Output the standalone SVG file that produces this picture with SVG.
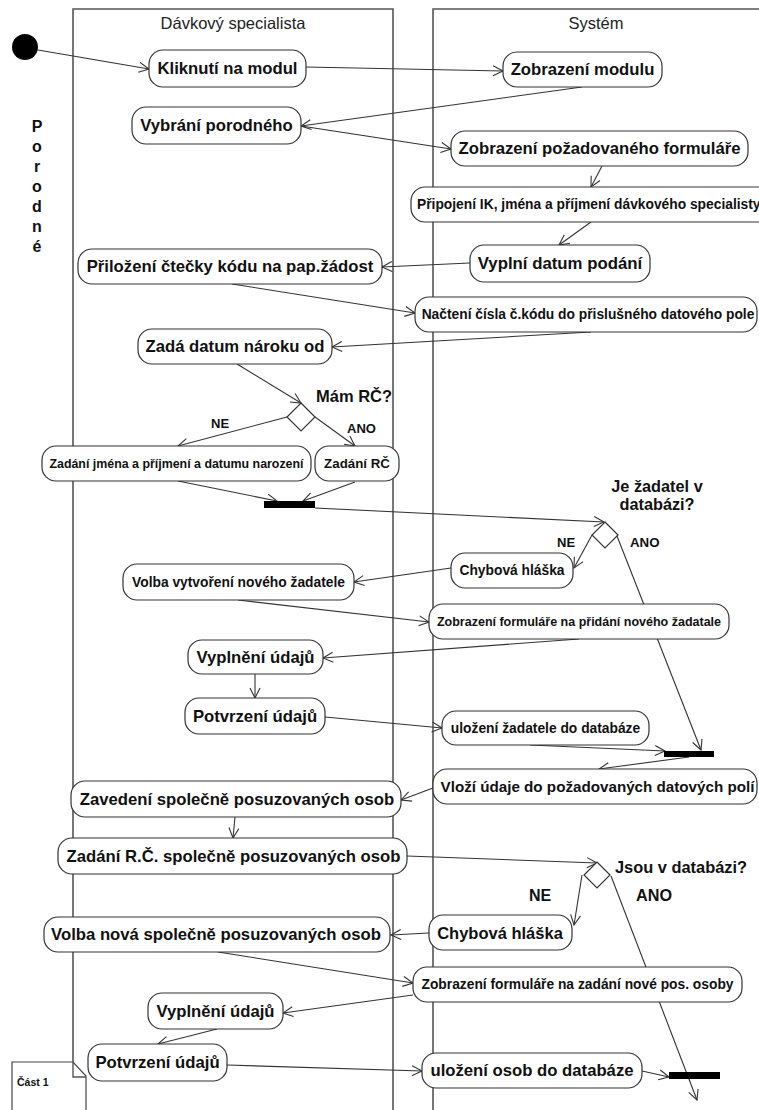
<svg xmlns="http://www.w3.org/2000/svg" width="759" height="1110" viewBox="0 0 759 1110">
<defs>
<marker id="arr" markerUnits="userSpaceOnUse" markerWidth="14" markerHeight="12" refX="11" refY="5.5" orient="auto">
<path d="M1,0.5 L11,5.5 L1,10.5" fill="none" stroke="#333" stroke-width="1.1"/>
</marker>
<style>
.lane{fill:none;stroke:#555;stroke-width:1.6}
.box{fill:#fff;stroke:#333;stroke-width:1.2}
.c{fill:none;stroke:#333;stroke-width:1.1;marker-end:url(#arr)}
.t{font-family:"Liberation Sans",Arial,sans-serif;font-weight:bold;fill:#111;text-anchor:middle;dominant-baseline:central}
.l{font-family:"Liberation Sans",Arial,sans-serif;font-weight:bold;fill:#111}
.h{font-family:"Liberation Sans",Arial,sans-serif;font-size:16.5px;fill:#222;text-anchor:middle}
.big{font-size:16.7px}
.mid{font-size:13.8px}
.bar{fill:#000}
</style>
</defs>
<rect width="759" height="1110" fill="#fff"/>
<g id="lanes">
<path class="lane" d="M73,1077 V9 H393 V1110"/>
<path class="lane" d="M433,1110 V9 H762"/>
<text class="h" x="233" y="29">Dávkový specialista</text>
<text class="h" x="596" y="29">Systém</text>
<g class="l" font-size="16" text-anchor="middle">
<text x="37" y="132">P</text><text x="37" y="152">o</text><text x="37" y="172">r</text><text x="37" y="192">o</text><text x="37" y="212">d</text><text x="37" y="232">n</text><text x="37" y="252">é</text>
</g>
</g>
<g id="connectors">
<path class="c" d="M38,50 L149,69"/>
<path class="c" d="M306,67 L503,71"/>
<path class="c" d="M582,87 L301,126"/>
<path class="c" d="M301,126 L451,149"/>
<path class="c" d="M602,166 L591,187"/>
<path class="c" d="M591,222 L559,245"/>
<path class="c" d="M470,263 L382,267"/>
<path class="c" d="M232,284 L415,313"/>
<path class="c" d="M591,332 L332,347"/>
<path class="c" d="M237,364 L301,403"/>
<path class="c" d="M287,417 L178,446"/>
<path class="c" d="M315,417 L355,446"/>
<path class="c" d="M178,481 L277,501"/>
<path class="c" d="M355,482 L303,501"/>
<path class="c" d="M315,508 L604,522"/>
<path class="c" d="M592,535 L574,568"/>
<path class="c" d="M617,536 L701,750"/>
<path class="c" d="M451,568 L354,582"/>
<path class="c" d="M238,600 L429,622"/>
<path class="c" d="M579,639 L323,658"/>
<path class="c" d="M255,674 L255,698"/>
<path class="c" d="M325,717 L442,728"/>
<path class="c" d="M530,745 L665,751"/>
<path class="c" d="M689,757 L599,769"/>
<path class="c" d="M433,788 L401,800"/>
<path class="c" d="M235,817 L233,838"/>
<path class="c" d="M407,856 L597,863"/>
<path class="c" d="M582,875 L574,925"/>
<path class="c" d="M611,876 L697,1100"/>
<path class="c" d="M429,933 L391,935"/>
<path class="c" d="M218,952 L413,983"/>
<path class="c" d="M413,995 L283,1013"/>
<path class="c" d="M217,1029 L158,1044"/>
<path class="c" d="M227,1065 L422,1071"/>
<path class="c" d="M642,1071 L669,1077"/>
</g>
<g id="start"><circle cx="25" cy="47" r="13" fill="#000"/></g>
<g id="n1"><rect class="box" x="149" y="50" width="157" height="37" rx="14"/><text class="t big" x="227.5" y="68.5">Kliknutí na modul</text></g>
<g id="n2"><rect class="box" x="503" y="52" width="159" height="35" rx="14"/><text class="t big" x="582.5" y="69.5">Zobrazení modulu</text></g>
<g id="n3"><rect class="box" x="132" y="107" width="169" height="37" rx="14"/><text class="t big" x="216.5" y="125.5">Vybrání porodného</text></g>
<g id="n4"><rect class="box" x="451" y="131" width="297" height="35" rx="14"/><text class="t big" x="599.5" y="148.5">Zobrazení požadovaného formuláře</text></g>
<g id="n5"><rect class="box" x="411" y="187" width="362" height="35" rx="14"/><text class="t mid" x="417" y="204.5" style="text-anchor:start">Připojení IK, jména a příjmení dávkového specialisty</text></g>
<g id="n6"><rect class="box" x="470" y="245" width="180" height="37" rx="14"/><text class="t" font-size="16.8" x="560" y="263.5">Vyplní datum podání</text></g>
<g id="n7"><rect class="box" x="78" y="249" width="304" height="35" rx="14"/><text class="t big" x="230" y="266.5">Přiložení čtečky kódu na pap.žádost</text></g>
<g id="n8"><rect class="box" x="415" y="297" width="342" height="35" rx="14"/><text class="t mid" x="588" y="314.5">Načtení čísla č.kódu do přislušného datového pole</text></g>
<g id="n9"><rect class="box" x="138" y="329" width="194" height="35" rx="14"/><text class="t big" x="235" y="346.5">Zadá datum nároku od</text></g>
<g id="d1"><path class="box" d="M301,403 L315,417 L301,431 L287,417 Z"/><text class="l" font-size="16.5" x="316" y="402">Mám RČ?</text><text class="l" font-size="13" x="211" y="428">NE</text><text class="l" font-size="13" x="347" y="433">ANO</text></g>
<g id="n10"><rect class="box" x="42" y="446" width="269" height="35" rx="14"/><text class="t" font-size="12.4" x="176.5" y="463.5">Zadání jména a příjmení a datumu narození</text></g>
<g id="n11"><rect class="box" x="315" y="446" width="84" height="35" rx="14"/><text class="t" font-size="13.3" x="357" y="463.5">Zadání RČ</text></g>
<g id="b1"><rect class="bar" x="264" y="501" width="51" height="7"/></g>
<g id="d2"><path class="box" d="M605,522 L618,535 L605,548 L592,535 Z"/><text class="l" font-size="16.3" x="657" y="492" text-anchor="middle">Je žadatel v</text><text class="l" font-size="16.3" x="657" y="510" text-anchor="middle">databázi?</text><text class="l" font-size="13" x="557" y="547">NE</text><text class="l" font-size="13.3" x="630" y="547">ANO</text></g>
<g id="n12"><rect class="box" x="451" y="553" width="122" height="35" rx="14"/><text class="t mid" x="512" y="570.5">Chybová hláška</text></g>
<g id="n13"><rect class="box" x="123" y="564" width="231" height="36" rx="14"/><text class="t mid" x="238.5" y="582">Volba vytvoření nového žadatele</text></g>
<g id="n14"><rect class="box" x="429" y="604" width="300" height="35" rx="14"/><text class="t" font-size="12.5" x="579" y="621.5">Zobrazení formuláře na přidání nového žadatale</text></g>
<g id="n15"><rect class="box" x="188" y="640" width="135" height="34" rx="14"/><text class="t big" x="255.5" y="657">Vyplnění údajů</text></g>
<g id="n16"><rect class="box" x="185" y="698" width="140" height="36" rx="14"/><text class="t big" x="255" y="716">Potvrzení údajů</text></g>
<g id="n17"><rect class="box" x="442" y="711" width="207" height="34" rx="14"/><text class="t mid" x="545.5" y="728">uložení žadatele do databáze</text></g>
<g id="b2"><rect class="bar" x="664" y="751" width="50" height="6"/></g>
<g id="n18"><rect class="box" x="433" y="769" width="324" height="35" rx="14"/><text class="t" font-size="15.2" x="597.5" y="786.5">Vloží údaje do požadovaných datových polí</text></g>
<g id="n19"><rect class="box" x="71" y="781" width="330" height="36" rx="14"/><text class="t big" x="237" y="799">Zavedení společně posuzovaných osob</text></g>
<g id="n20"><rect class="box" x="58" y="838" width="349" height="36" rx="14"/><text class="t big" x="233.5" y="856">Zadání R.Č. společně posuzovaných osob</text></g>
<g id="d3"><path class="box" d="M597,862 L610,875 L597,888 L584,875 Z"/><text class="l" font-size="16.4" x="615" y="873">Jsou v databázi?</text><text class="l" font-size="16" x="529" y="901">NE</text><text class="l" font-size="16.2" x="636" y="901">ANO</text></g>
<g id="n21"><rect class="box" x="429" y="915" width="143" height="35" rx="14"/><text class="t" font-size="16.5" x="500" y="932.5">Chybová hláška</text></g>
<g id="n22"><rect class="box" x="44" y="917" width="346" height="35" rx="14"/><text class="t big" x="216" y="934.5">Volba nová společně posuzovaných osob</text></g>
<g id="n23"><rect class="box" x="413" y="967" width="329" height="35" rx="14"/><text class="t mid" x="577.5" y="984.5">Zobrazení formuláře na zadání nové pos. osoby</text></g>
<g id="n24"><rect class="box" x="148" y="993" width="135" height="36" rx="14"/><text class="t big" x="215.5" y="1011">Vyplnění údajů</text></g>
<g id="n25"><rect class="box" x="88" y="1044" width="139" height="37" rx="14"/><text class="t big" x="157.5" y="1062.5">Potvrzení údajů</text></g>
<g id="n26"><rect class="box" x="422" y="1053" width="220" height="35" rx="14"/><text class="t big" x="532" y="1070.5">uložení osob do databáze</text></g>
<g id="b3"><rect class="bar" x="669" y="1072" width="51" height="7"/></g>
<g id="note">
<path d="M12,1112 V1062 H73 L86,1076 V1112" fill="#fff" stroke="#444" stroke-width="1.2"/>
<path d="M73,1062 V1077 H86" fill="none" stroke="#555" stroke-width="1.4"/>
<text class="l" font-size="10.5" x="17" y="1086">Část 1</text>
</g>
</svg>
